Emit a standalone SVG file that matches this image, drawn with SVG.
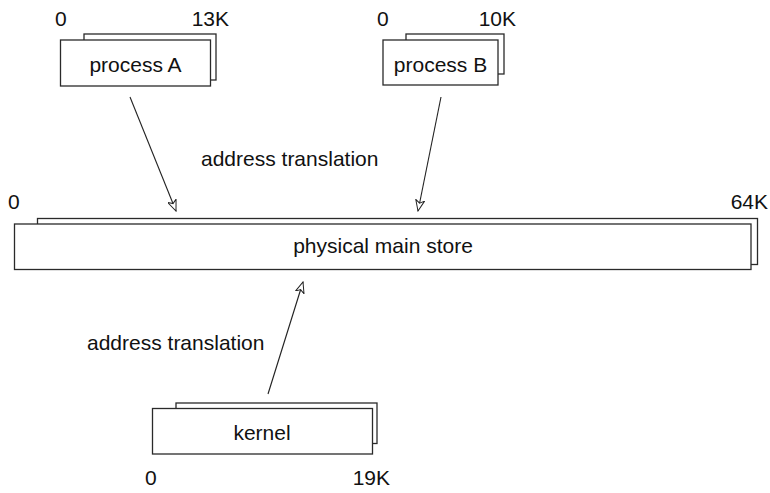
<svg xmlns="http://www.w3.org/2000/svg" width="770" height="493" viewBox="0 0 770 493">
<style>
  .box { fill: #ffffff; stroke: #2a2a2a; stroke-width: 1.3; }
  .t { font-family: "Liberation Sans", Arial, sans-serif; font-size: 21px; fill: #111; }
  .m { text-anchor: middle; }
  .e { text-anchor: end; }
  .conn { stroke: #222; stroke-width: 1.1; fill: none; }
</style>
<defs>
  <marker id="arr" viewBox="0 0 12 10" refX="11" refY="5" markerWidth="12" markerHeight="10" markerUnits="userSpaceOnUse" orient="auto">
    <path d="M0,0.5 L11,5 L0,9.5 L3,5 Z" fill="#fff" stroke="#222" stroke-width="1"/>
  </marker>
</defs>
<rect width="770" height="493" fill="#ffffff"/>

<g id="processA">
  <rect class="box" x="84" y="34" width="132" height="46"/>
  <rect class="box" x="60.5" y="40" width="150" height="46"/>
  <text class="t m" x="135.5" y="72">process A</text>
  <text class="t" x="55" y="26">0</text>
  <text class="t e" x="229" y="26">13K</text>
</g>

<g id="processB">
  <rect class="box" x="406" y="34" width="98" height="40"/>
  <rect class="box" x="383" y="40" width="115" height="45"/>
  <text class="t m" x="440.5" y="72">process B</text>
  <text class="t" x="377" y="26">0</text>
  <text class="t e" x="516" y="26">10K</text>
</g>

<g id="mainstore">
  <rect class="box" x="37.5" y="218.5" width="720" height="46"/>
  <rect class="box" x="14.5" y="224" width="736.5" height="45.5"/>
  <text class="t m" x="383" y="253">physical main store</text>
  <text class="t" x="8" y="209">0</text>
  <text class="t e" x="768" y="209">64K</text>
</g>

<g id="kernel">
  <rect class="box" x="176" y="403" width="201" height="40.5"/>
  <rect class="box" x="152.5" y="408.5" width="220" height="45.5"/>
  <text class="t m" x="262" y="440">kernel</text>
  <text class="t" x="145" y="485">0</text>
  <text class="t e" x="390" y="485">19K</text>
</g>

<g id="labels">
  <text class="t" x="201" y="166">address translation</text>
  <text class="t" x="87" y="350">address translation</text>
</g>

<g id="connectors">
  <line class="conn" x1="130" y1="97" x2="176" y2="211" marker-end="url(#arr)"/>
  <line class="conn" x1="441" y1="97" x2="418" y2="211" marker-end="url(#arr)"/>
  <line class="conn" x1="268" y1="394" x2="303" y2="282" marker-end="url(#arr)"/>
</g>
</svg>
